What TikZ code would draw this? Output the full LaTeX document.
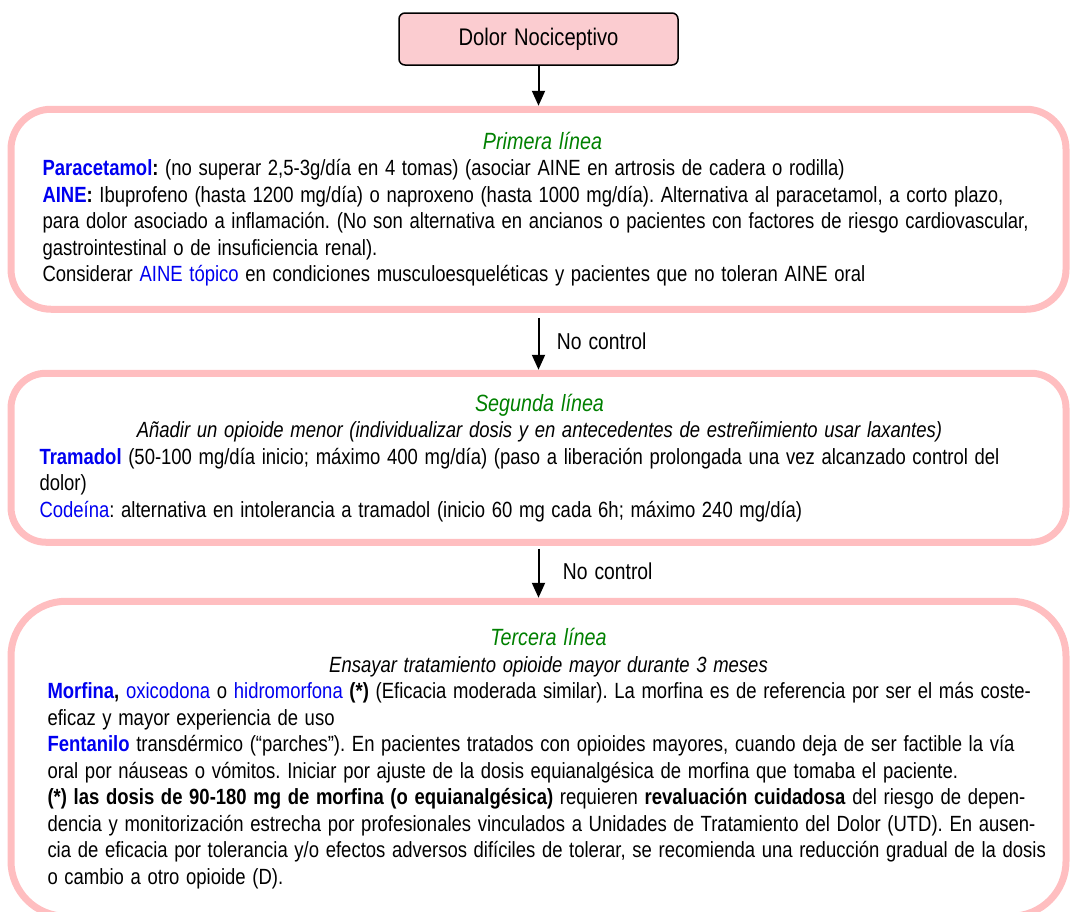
\documentclass[tikz,border=0pt]{standalone}
\usepackage{fontspec}
\setmainfont{Liberation Sans}[FakeStretch=0.84, WordSpace=1.3]
\usepackage{xcolor}
\usepackage{tikz}
\usetikzlibrary{
  arrows.meta,
  positioning
}
\definecolor{boxpink}{RGB}{255,190,192}
\definecolor{nodepink}{RGB}{251,204,208}
\definecolor{linegreen}{RGB}{0,128,0}
\definecolor{drugblue}{RGB}{0,0,240}
\newcommand{\drug}[1]{\textcolor{drugblue}{#1}}
\newcommand{\drugbf}[1]{\textbf{\textcolor{drugblue}{#1}}}
\newcommand{\linetitle}[1]{{\fontsize{23.5pt}{26.5pt}\selectfont\textcolor{linegreen}{\itshape #1}}}
% shifted block of text: #1 shift, #2 width, #3 text
\newcommand{\boxtext}[3]{\hspace*{#1}\begin{minipage}{#2}#3\end{minipage}\hspace*{-#1}}
\frenchspacing

\begin{document}
\begin{tikzpicture}[
  startbox/.style={
    rectangle, draw=black, fill=nodepink, line width=1.5pt, rounded corners=6pt,
    minimum width=279pt, minimum height=52pt,
    font=\fontsize{24pt}{26pt}\selectfont
  },
  linebox/.style={
    rectangle, draw=boxpink, line width=7pt, rounded corners=40pt,
    minimum width=1055pt, inner sep=0pt,
    font=\fontsize{22pt}{26.5pt}\selectfont
  },
  ptr/.style={-{Triangle[length=15pt,width=13pt]}, line width=2pt, black},
  lbl/.style={font=\fontsize{23pt}{26pt}\selectfont}
]
  \useasboundingbox (0pt,0pt) rectangle (1075pt,-911pt);

  % start
  \node[startbox] (dolor) at (538.5pt,-39pt) {Dolor Nociceptivo};

  % first line
  \node[linebox, minimum height=200pt, below=40pt of dolor] (first)
    {\boxtext{4pt}{1000pt}{%
     \centering\linetitle{Primera línea}\par
     \raggedright
     \drugbf{Paracetamol}\textbf{:} (no superar 2,5-3g/día en 4 tomas) (asociar AINE en artrosis de cadera o rodilla)\\
     \drugbf{AINE}\textbf{:} Ibuprofeno (hasta 1200 mg/día) o naproxeno (hasta 1000 mg/día). Alternativa al paracetamol, a corto plazo,\\
     para dolor asociado a inflamación. (No son alternativa en ancianos o pacientes con factores de riesgo cardiovascular,\\
     gastrointestinal o de insuficiencia renal).\\
     Considerar \drug{AINE tópico} en condiciones musculoesqueléticas y pacientes que no toleran AINE oral}};

  % second line
  \node[linebox, rounded corners=35pt, minimum height=169pt, below=57pt of first] (second)
    {\boxtext{1pt}{1000pt}{%
     \centering\linetitle{Segunda línea}\\
     \textit{Añadir un opioide menor (individualizar dosis y en antecedentes de estreñimiento usar laxantes)}\par
     \raggedright
     \drugbf{Tramadol} (50-100 mg/día inicio; máximo 400 mg/día) (paso a liberación prolongada una vez alcanzado control del\\
     dolor)\\
     \drug{Codeína}: alternativa en intolerancia a tramadol (inicio 60 mg cada 6h; máximo 240 mg/día)}};

  % third line
  \node[linebox, rounded corners=55pt, minimum height=315pt, below=52pt of second] (third)
    {\boxtext{19pt}{1020pt}{%
     \centering\hspace*{-18pt}\linetitle{Tercera línea}\\
     \hspace*{-18pt}\textit{Ensayar tratamiento opioide mayor durante 3 meses}\par
     \raggedright
     \drugbf{Morfina}\textbf{,} \drug{oxicodona} o \drug{hidromorfona} \textbf{(*)} (Eficacia moderada similar). La morfina es de referencia por ser el más coste-\\
     eficaz y mayor experiencia de uso\\
     \drugbf{Fentanilo} transdérmico (“parches”). En pacientes tratados con opioides mayores, cuando deja de ser factible la vía\\
     oral por náuseas o vómitos. Iniciar por ajuste de la dosis equianalgésica de morfina que tomaba el paciente.\\
     \textbf{(*) las dosis de 90-180 mg de morfina (o equianalgésica)} requieren \textbf{revaluación cuidadosa} del riesgo de depen-\\
     dencia y monitorización estrecha por profesionales vinculados a Unidades de Tratamiento del Dolor (UTD). En ausen-\\
     cia de eficacia por tolerancia y/o efectos adversos difíciles de tolerar, se recomienda una reducción gradual de la dosis\\
     o cambio a otro opioide (D).}};

  \draw[ptr] (dolor) -- (first);
  \draw[ptr, shorten <=5pt] (first) -- (second)
    node[lbl, midway, right=14pt] (nocontrol1) {No control};
  \draw[ptr, shorten <=3pt] (second) -- (third)
    node[lbl, midway, right=20pt] (nocontrol2) {No control};
\end{tikzpicture}
\end{document}
